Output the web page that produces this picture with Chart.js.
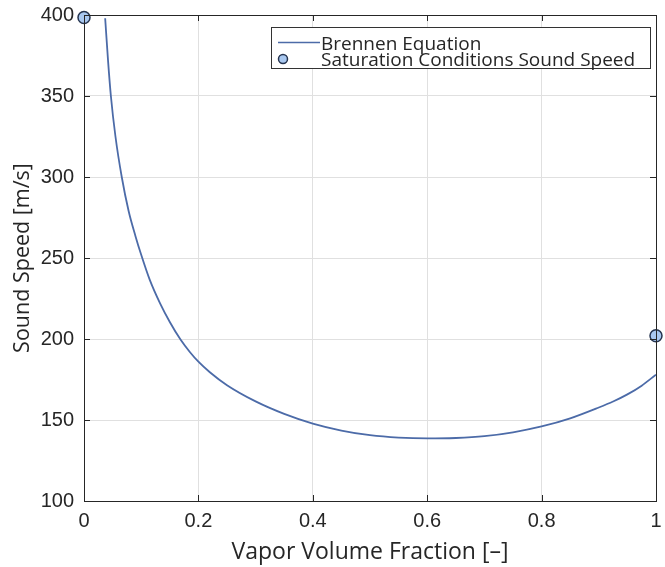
<!DOCTYPE html>
<html>
<head>
<meta charset="utf-8">
<script src="https://cdn.jsdelivr.net/npm/chart.js@4"></script>
<style>
  html, body { margin: 0; padding: 0; background: #fff; }
  #wrap { position: relative; width: 665px; height: 567px; }
</style>
</head>
<body>
<div id="wrap"><canvas id="chart" width="665" height="567"></canvas></div>
<script>
// vapor volume fraction vs sound speed
const fraction = [0.037, 0.042, 0.047, 0.055, 0.066, 0.078, 0.09, 0.1, 0.115, 0.133, 0.15, 0.169,
  0.185, 0.2, 0.22, 0.25, 0.3, 0.35, 0.4, 0.45, 0.5, 0.55, 0.6, 0.65, 0.7, 0.75, 0.8, 0.85, 0.9,
  0.925, 0.95, 0.975, 1.0];
const brennen = [398, 372, 350, 325, 300, 279, 263.5, 252, 236.5, 222, 210.5, 199.5,
  192, 186, 179.5, 171.5, 161.5, 153.8, 147.8, 143.5, 140.6, 139.1, 138.6, 138.9, 140, 142.4, 146, 151, 157.7,
  161.4, 165.8, 171.2, 178];

const satFraction = [0, 1];
const satSpeed = [398.5, 202];

const xTicks = [0, 0.2, 0.4, 0.6, 0.8, 1];
const yTicks = [100, 150, 200, 250, 300, 350, 400];

const TICK_FONT = '"Liberation Sans", Helvetica, Arial, sans-serif';
const LABEL_FONT = '"Open Sans", "Liberation Sans", sans-serif';
const TEXT = '#262626';
const LINE_COLOR = '#4c6ba8';
const MARK_FILL = '#a9c8f0';
const MARK_EDGE = '#25344f';

// box + inward ticks like matlab
const boxPlugin = {
  id: 'box',
  afterDatasetsDraw(chart) {
    const { ctx, chartArea: a, scales } = chart;
    ctx.save();
    ctx.strokeStyle = TEXT;
    ctx.lineWidth = 1;
    ctx.strokeRect(a.left + 0.5, a.top + 0.5, a.right - a.left, a.bottom - a.top);
    const len = 6;
    ctx.beginPath();
    xTicks.forEach((v) => {
      const x = Math.round(scales.x.getPixelForValue(v)) + 0.5;
      ctx.moveTo(x, a.bottom); ctx.lineTo(x, a.bottom - len);
      ctx.moveTo(x, a.top); ctx.lineTo(x, a.top + len);
    });
    yTicks.forEach((v) => {
      const y = Math.round(scales.y.getPixelForValue(v)) + 0.5;
      ctx.moveTo(a.left, y); ctx.lineTo(a.left + len, y);
      ctx.moveTo(a.right, y); ctx.lineTo(a.right - len, y);
    });
    ctx.stroke();
    ctx.restore();
  },
};

// legend drawn inside the plot, top right
const legendPlugin = {
  id: 'boxLegend',
  afterDraw(chart) {
    const { ctx, chartArea: a } = chart;
    const sets = chart.data.datasets;
    const w = 379, h = 41;
    const x0 = a.right - 6 - w, y0 = a.top + 12;
    ctx.save();
    ctx.fillStyle = '#fff';
    ctx.fillRect(x0, y0, w, h);
    ctx.strokeStyle = '#333';
    ctx.lineWidth = 1;
    ctx.strokeRect(x0 + 0.5, y0 + 0.5, w, h);
    ctx.font = '19px ' + LABEL_FONT;
    ctx.textBaseline = 'middle';
    ctx.fillStyle = TEXT;
    const rows = [y0 + 15.5, y0 + 32];
    // line sample
    ctx.strokeStyle = sets[0].borderColor;
    ctx.lineWidth = 1.5;
    ctx.beginPath();
    ctx.moveTo(x0 + 7, rows[0]); ctx.lineTo(x0 + 49, rows[0]);
    ctx.stroke();
    ctx.fillText(sets[0].label, x0 + 50, rows[0] + 2);
    // marker sample
    ctx.beginPath();
    ctx.arc(x0 + 12, rows[1], 4.5, 0, Math.PI * 2);
    ctx.fillStyle = sets[1].backgroundColor;
    ctx.fill();
    ctx.strokeStyle = sets[1].borderColor;
    ctx.lineWidth = 1.5;
    ctx.stroke();
    ctx.fillStyle = TEXT;
    ctx.fillText(sets[1].label, x0 + 50, rows[1] + 2);
    ctx.restore();
  },
};

new Chart(document.getElementById('chart'), {
  type: 'scatter',
  data: {
    datasets: [
      {
        label: 'Brennen Equation',
        data: fraction.map((x, i) => ({ x, y: brennen[i] })),
        showLine: true,
        borderColor: LINE_COLOR,
        borderWidth: 1.8,
        pointRadius: 0,
        cubicInterpolationMode: 'monotone',
      },
      {
        label: 'Saturation Conditions Sound Speed',
        data: satFraction.map((x, i) => ({ x, y: satSpeed[i] })),
        showLine: false,
        pointRadius: 6,
        pointBorderWidth: 1.5,
        backgroundColor: MARK_FILL,
        borderColor: MARK_EDGE,
        clip: false,
      },
    ],
  },
  options: {
    responsive: false,
    animation: false,
    layout: { padding: { top: 15, right: 9, left: 0, bottom: 0 } },
    plugins: { legend: { display: false }, tooltip: { enabled: false } },
    scales: {
      x: {
        type: 'linear',
        min: 0,
        max: 1,
        afterBuildTicks: (s) => { s.ticks = xTicks.map((v) => ({ value: v })); },
        afterFit: (s) => { s.height = 66; s.paddingLeft = 0; s.paddingRight = 0; },
        ticks: {
          color: TEXT,
          font: { family: TICK_FONT, size: 20 },
          padding: 8,
          maxRotation: 0,
          callback: (v) => String(v),
        },
        grid: { color: '#e0e0e0', drawTicks: false },
        border: { display: false },
        title: {
          display: true,
          text: 'Vapor Volume Fraction [–]',
          color: TEXT,
          font: { family: LABEL_FONT, size: 23 },
          padding: { top: 0, bottom: 1 },
        },
      },
      y: {
        min: 100,
        max: 400,
        afterBuildTicks: (s) => { s.ticks = yTicks.map((v) => ({ value: v })); },
        afterFit: (s) => { s.width = 84; s.paddingTop = 0; s.paddingBottom = 0; },
        ticks: {
          color: TEXT,
          font: { family: TICK_FONT, size: 20 },
          padding: 10,
        },
        grid: { color: '#e0e0e0', drawTicks: false },
        border: { display: false },
        title: {
          display: true,
          text: 'Sound Speed [m/s]',
          color: TEXT,
          font: { family: LABEL_FONT, size: 21.5 },
          padding: { top: 10, bottom: 0 },
        },
      },
    },
  },
  plugins: [boxPlugin, legendPlugin],
});
</script>
</body>
</html>
